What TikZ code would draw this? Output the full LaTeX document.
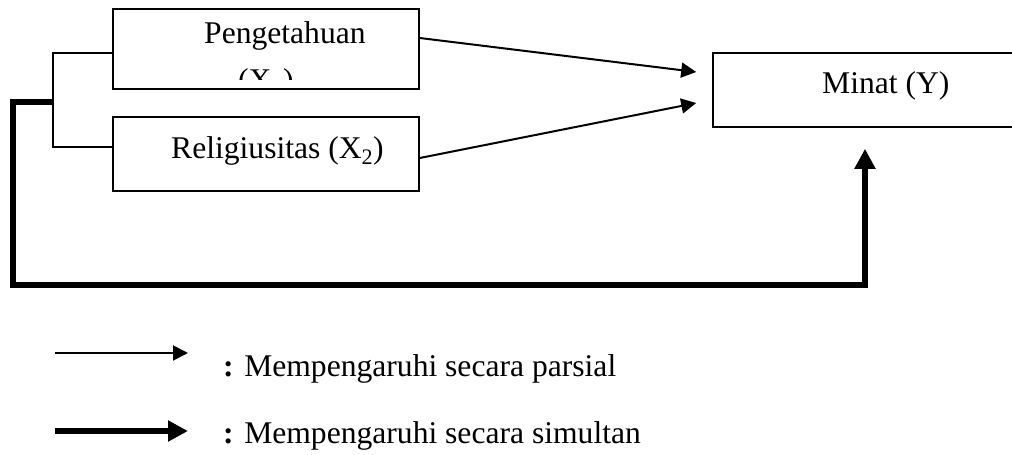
\documentclass[tikz,border=0pt]{standalone}
\usepackage{fontspec}
\setmainfont{Liberation Serif}
\usetikzlibrary{arrows.meta}
\begin{document}
\begin{tikzpicture}[x=1pt,y=-1pt,
  boxstyle/.style={draw,line width=1.6pt,inner sep=0pt},
  txt/.style={anchor=base west,inner sep=0pt,font=\fontsize{31.6}{36}\selectfont},
  thinarrow/.style={line width=2pt,-{Triangle[length=15pt,width=15pt]}},
  thickarrow/.style={line width=6.5pt,line join=miter,-{Triangle[length=20pt,width=20pt]}},
  thinline/.style={line width=1.6pt}]
\clip (0,0) rectangle (1012,455);
\fill[white] (0,0) rectangle (1012,455);
% boxes
\node[boxstyle,minimum width=306pt,minimum height=80pt] (x1) at (266,49) {};
\node[boxstyle,minimum width=306pt,minimum height=74pt] (x2) at (266,154) {};
\node[boxstyle,minimum width=317pt,minimum height=74pt] (minat) at (871.5,90) {};
% texts
\node[txt] (t1) at (204,43) {Pengetahuan};
\begin{scope}
\clip (114,10) rectangle (418,79);
\node[txt] (t1b) at (238,90) {(X\textsubscript{1})};
\end{scope}
\node[txt] (t2) at (171,158) {Religiusitas (X\textsubscript{2})};
\node[txt] (ty) at (822,93) {Minat (Y)};
% partial arrows
\draw[thinarrow] ([yshift=11pt]x1.east) -- ([xshift=-16pt,yshift=18pt]minat.west);
\draw[thinarrow] ([yshift=-4pt]x2.east) -- ([xshift=-16pt,yshift=-13pt]minat.west);
% bracket
\draw[thinline] ([yshift=-4pt]x1.west) -- ++(-59,0) |- ([yshift=7pt]x2.west);
\coordinate (j) at (54,102);
% simultaneous arrow
\draw[thickarrow] (j) -- (13,102) -- (13,285) -| ([xshift=-6.5pt,yshift=-21pt]minat.south);
% legend
\coordinate (l1a) at (55,353);
\coordinate (l1b) at (188,353);
\coordinate (l2a) at (55,431);
\coordinate (l2b) at (188,431);
\draw[thinarrow] (l1a) -- (l1b);
\draw[thickarrow] (l2a) -- (l2b);
\node[txt] (lt1) at (223,376) {\textbf{:} Mempengaruhi secara parsial};
\node[txt] (lt2) at (223,443) {\textbf{:} Mempengaruhi secara simultan};
\end{tikzpicture}
\end{document}
